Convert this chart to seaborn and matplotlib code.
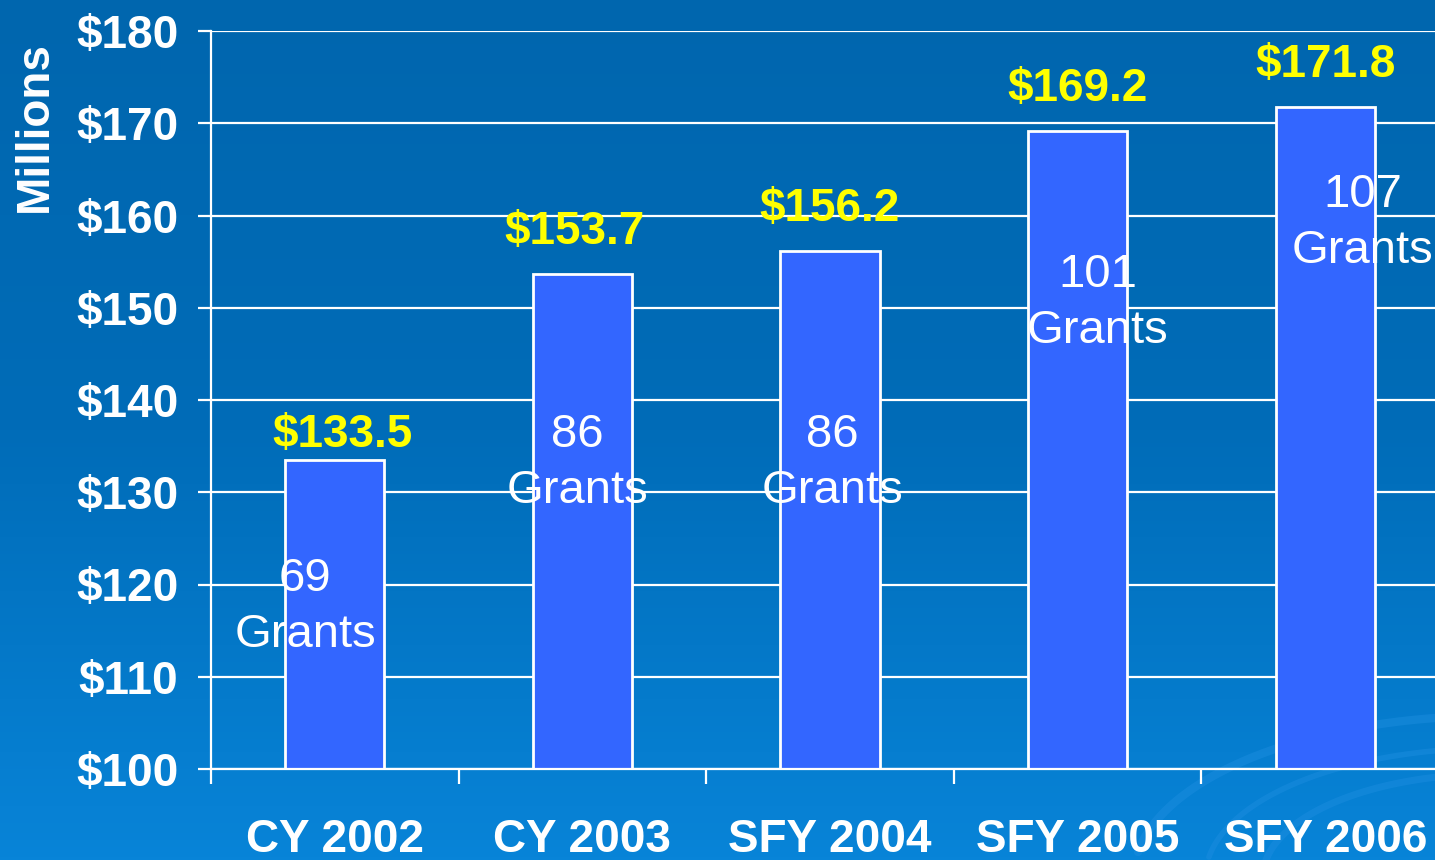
import numpy as np
import pandas as pd
import seaborn as sns
import matplotlib as mpl
from matplotlib import pyplot as plt
from matplotlib.colors import LinearSegmentedColormap

periods = ['CY 2002', 'CY 2003', 'SFY 2004', 'SFY 2005', 'SFY 2006']
funding = [133.5, 153.7, 156.2, 169.2, 171.8]
grants = [69, 86, 86, 101, 107]
yticks = [100, 110, 120, 130, 140, 150, 160, 170, 180]

# where the grant-count text sits (category offset, data y) - as in the slide
grant_dx = [-0.12, -0.02, 0.01, 0.08, 0.15]
grant_y = [117.6, 133.2, 133.2, 150.5, 159.2]
# value label nudges above each bar
value_dx = [0.03, -0.03, 0.0, 0.0, 0.0]
value_dy = [0.3, 2.1, 2.1, 2.1, 2.1]

df = pd.DataFrame({'period': periods, 'funding': funding})

sns.set_theme(style='white')
plt.rcParams['font.family'] = ['Liberation Sans', 'DejaVu Sans']

fig = plt.figure(figsize=(14.35, 8.6), dpi=100)

# gradient background
bg = fig.add_axes([0, 0, 1, 1], zorder=-10)
grad = LinearSegmentedColormap.from_list('bg', ['#0066ae', '#006cb8', '#0884d8'])
bg.imshow(np.linspace(0, 1, 256).reshape(-1, 1), aspect='auto', cmap=grad,
          extent=[0, 1, 0, 1], origin='upper')
# faint swirl decoration bottom right
for r, lw in [(0.16, 5), (0.20, 4), (0.25, 6)]:
    t = np.linspace(np.pi * 0.5, np.pi * 0.95, 60)
    bg.plot(1.04 + r * np.cos(t), -0.02 + r * np.sin(t) * 0.75, color='#1e8ee0', lw=lw, alpha=0.45)
bg.set(xlim=(0, 1), ylim=(0, 1))
bg.axis('off')

ax = fig.add_axes([211 / 1435, 1 - 769 / 860, 1238 / 1435, 738 / 860])
ax.patch.set_alpha(0)

sns.barplot(data=df, x='period', y='funding', color='#3366ff', saturation=1,
            width=0.4, edgecolor='white', linewidth=2, zorder=3, ax=ax)

ax.set(ylim=(100, 180), xlim=(-0.5, 4.5), xlabel='', ylabel='')
ax.set_yticks(yticks)
ax.set_yticklabels([f'${v}' for v in yticks])
ax.yaxis.grid(True, color='white', lw=1.6, zorder=0)
ax.set_axisbelow(True)

for s in ['top', 'right']:
    ax.spines[s].set_visible(False)
for s in ['left', 'bottom']:
    ax.spines[s].set_color('white')
    ax.spines[s].set_linewidth(1.6)
    ax.spines[s].set_zorder(4)

ax.tick_params(axis='y', colors='white', length=9.5, width=1.6, direction='out',
               labelsize=33, pad=14, left=True)
ax.tick_params(axis='x', colors='white', length=0, labelsize=33, pad=35)
for lab in ax.get_yticklabels() + ax.get_xticklabels():
    lab.set_fontweight('bold')
ax.set_xticks(np.arange(-0.5, 5, 1), minor=True)
ax.tick_params(axis='x', which='minor', bottom=True, length=11, width=1.6, color='white')

for i, v in enumerate(funding):
    ax.text(i + value_dx[i], v + value_dy[i], f'${v}', ha='center', va='bottom',
            color='#ffff00', fontsize=33, fontweight='bold', zorder=6)
    ax.text(i + grant_dx[i], grant_y[i], f'{grants[i]}\nGrants', ha='center', va='center',
            color='white', fontsize=34, linespacing=1.35, zorder=5)

fig.text(35 / 1435, 1 - 127 / 860, 'Millions', rotation=90, ha='center', va='center',
         color='white', fontsize=33, fontweight='bold')

fig.savefig('out.png', dpi=100)
